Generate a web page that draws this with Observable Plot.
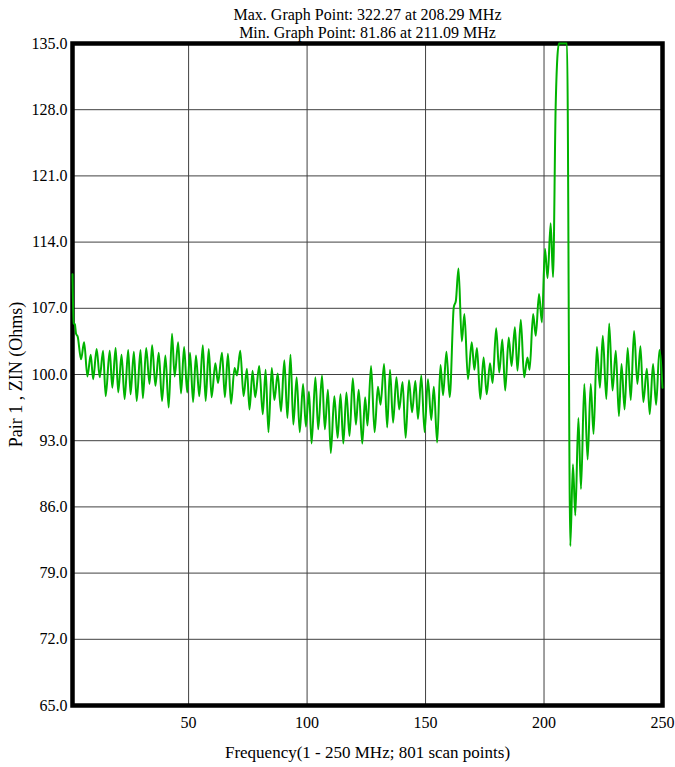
<!DOCTYPE html>
<html>
<head>
<meta charset="utf-8">
<script src="https://cdn.jsdelivr.net/npm/d3@7"></script>
<script src="https://cdn.jsdelivr.net/npm/@observablehq/plot@0.6"></script>
<style>
  html, body { margin: 0; padding: 0; background: #fff; }
</style>
</head>
<body>
<div id="chart"></div>
<script>
// ---- Data ----
const freqMHz = [
  1.0, 1.5, 2.0, 2.5, 3.2, 4.6, 5.9, 7.3, 8.7, 9.7,
  11.2, 12.5, 13.9, 15.0, 16.7, 17.8, 19.2, 20.3, 21.7, 23.0,
  24.5, 25.5, 26.9, 28.1, 29.7, 30.7, 32.1, 33.5, 34.6, 36.0,
  37.4, 38.8, 40.2, 41.6, 43.0, 44.1, 45.6, 46.8, 48.1, 49.4,
  50.6, 51.9, 53.1, 54.5, 56.0, 57.2, 58.5, 59.7, 61.3, 62.4,
  64.1, 65.3, 66.6, 67.9, 69.4, 70.4, 71.8, 73.2, 74.6, 75.7,
  77.0, 78.1, 79.8, 81.3, 82.5, 83.7, 85.1, 86.2, 87.6, 89.0,
  90.4, 91.7, 93.0, 94.2, 95.6, 96.9, 98.3, 99.5, 100.8, 101.9,
  103.5, 104.7, 106.3, 107.5, 108.8, 110.0, 111.5, 112.9, 114.1, 115.3,
  116.6, 117.9, 119.3, 120.6, 121.8, 123.3, 124.5, 125.5, 127.0, 128.5,
  129.9, 131.0, 132.5, 133.8, 135.0, 136.3, 137.7, 138.9, 140.3, 141.6,
  143.0, 144.3, 145.7, 146.8, 148.2, 149.6, 151.0, 152.4, 153.5, 154.9,
  156.3, 157.4, 158.8, 160.2, 161.9, 162.8, 163.9, 165.3, 166.4, 167.9,
  169.5, 170.6, 171.7, 173.1, 174.5, 175.8, 177.2, 178.3, 179.8, 181.1,
  182.4, 183.6, 185.1, 186.3, 187.7, 188.8, 190.2, 191.6, 193.0, 193.9,
  195.4, 196.5, 197.9, 199.1, 200.4, 201.5, 202.8, 203.8, 204.9, 205.6,
  206.3, 208.29, 209.7, 211.09, 212.2, 213.2, 214.5, 215.6, 217.0, 218.4,
  219.7, 220.9, 222.3, 223.6, 224.8, 226.3, 227.5, 228.9, 230.3, 231.6,
  232.7, 234.0, 235.3, 236.6, 238.0, 239.4, 240.7, 241.9, 243.4, 244.6,
  246.0, 247.3, 248.7, 250.0
];
const zinOhms = [
  110.6, 105.4, 105.3, 104.3, 104.0, 101.6, 103.4, 99.8, 102.1, 99.5,
  102.7, 99.7, 102.5, 97.7, 102.5, 98.6, 102.8, 98.1, 102.1, 97.4,
  102.6, 97.9, 102.4, 97.2, 102.6, 97.5, 102.8, 99.0, 103.1, 98.8,
  102.3, 97.2, 102.0, 96.5, 104.3, 99.8, 103.4, 98.0, 102.9, 98.1,
  102.3, 97.1, 102.0, 97.7, 103.1, 97.2, 102.7, 97.6, 101.2, 99.1,
  102.3, 97.6, 102.2, 96.9, 100.7, 99.9, 102.5, 97.7, 100.6, 96.3,
  100.4, 97.6, 100.9, 95.8, 100.5, 93.9, 100.7, 97.3, 100.1, 96.1,
  101.5, 95.4, 102.1, 94.7, 99.7, 93.9, 99.0, 94.5, 98.2, 92.7,
  99.7, 94.2, 99.9, 94.2, 98.4, 91.7, 97.7, 93.3, 97.9, 92.7,
  98.1, 93.5, 99.6, 94.7, 98.4, 92.7, 97.6, 94.6, 100.9, 93.9,
  98.7, 96.8, 101.1, 94.4, 100.5, 94.9, 99.7, 96.3, 99.2, 93.3,
  99.4, 96.0, 99.3, 95.3, 99.9, 93.9, 99.5, 95.2, 98.7, 92.8,
  101.0, 97.8, 102.4, 97.6, 107.1, 107.8, 111.2, 103.5, 106.4, 99.5,
  103.4, 100.5, 102.8, 97.4, 101.8, 97.9, 101.2, 99.1, 104.9, 100.2,
  103.7, 98.3, 103.9, 100.9, 105.0, 100.4, 105.8, 99.7, 101.8, 100.5,
  106.4, 104.1, 108.5, 105.5, 113.3, 110.2, 116.0, 110.3, 128.2, 133.4,
  150.0, 322.27, 140.0, 81.86, 90.5, 85.1, 95.4, 87.9, 99.0, 91.0,
  99.0, 93.7, 102.9, 98.6, 104.1, 97.4, 105.4, 98.3, 102.5, 95.6,
  101.1, 96.3, 102.8, 97.3, 104.6, 99.0, 103.0, 97.1, 100.6, 95.8,
  101.1, 96.8, 102.6, 98.6
];
const xTicks = [50, 100, 150, 200, 250];
const yTicks = [65, 72, 79, 86, 93, 100, 107, 114, 121, 128, 135];
const titleLines = [
  "Max. Graph Point: 322.27 at 208.29 MHz",
  "Min. Graph Point: 81.86 at 211.09 MHz"
];
const xLabel = "Frequency(1 - 250 MHz; 801 scan points)";
const yLabel = "Pair 1 , ZIN (Ohms)";
const yMax = 135;

const data = freqMHz.map((f, i) => ({f, v: zinOhms[i]}));

const chart = Plot.plot({
  width: 675,
  height: 767,
  marginLeft: 72,
  marginRight: 13,
  marginTop: 43,
  marginBottom: 62,
  style: {fontFamily: "'Liberation Serif', 'DejaVu Serif', serif", fontSize: "16px", color: "black", background: "white"},
  x: {domain: [1, 250]},
  y: {domain: [65, 135]},
  marks: [
    Plot.gridX(xTicks.slice(0, -1), {stroke: "#404040", strokeOpacity: 1, strokeWidth: 1}),
    Plot.gridY(yTicks.slice(1, -1), {stroke: "#404040", strokeOpacity: 1, strokeWidth: 1}),
    Plot.frame({stroke: "black", strokeWidth: 4.5}),
    Plot.line(data, {x: "f", y: d => Math.min(d.v, yMax), stroke: "#00b300", strokeWidth: 2, curve: "monotone-x"}),
    Plot.axisX(xTicks, {tickSize: 0, tickPadding: 11, label: null, fontSize: 16}),
    Plot.axisY(yTicks, {tickSize: 0, tickPadding: 5, tickFormat: d => d.toFixed(1), label: null, fontSize: 16}),
    Plot.text([xLabel], {text: d => d, frameAnchor: "bottom", lineAnchor: "middle", dy: 47, fontSize: 17}),
    Plot.text([yLabel], {text: d => d, frameAnchor: "left", textAnchor: "middle", lineAnchor: "middle", rotate: -90, dx: -56, fontSize: 18}),
    Plot.text([titleLines[0]], {text: d => d, frameAnchor: "top", lineAnchor: "middle", dy: -29, fontSize: 16}),
    Plot.text([titleLines[1]], {text: d => d, frameAnchor: "top", lineAnchor: "middle", dy: -11, fontSize: 16})
  ]
});
document.getElementById("chart").appendChild(chart);
</script>
</body>
</html>
